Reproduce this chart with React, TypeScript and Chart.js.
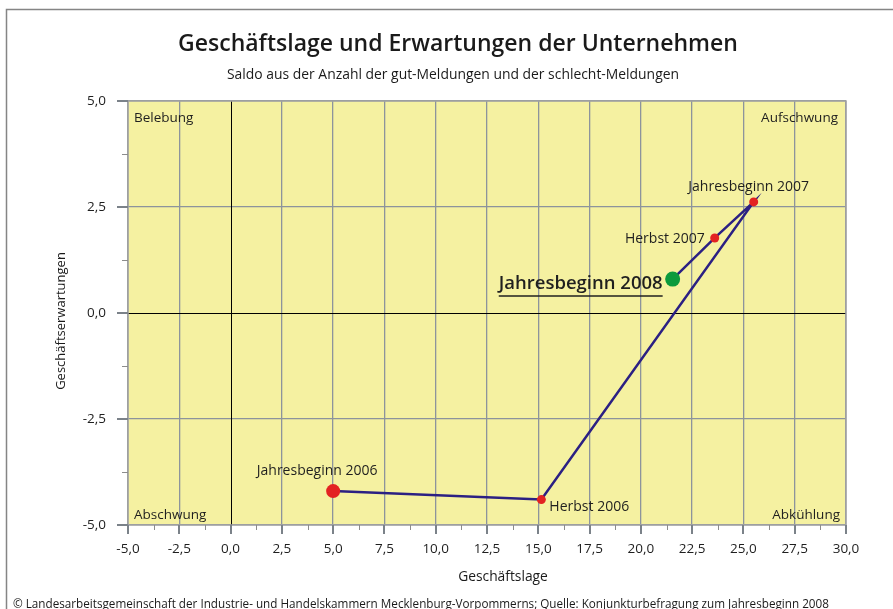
import React, { useEffect, useRef } from 'react';
import { Chart, registerables } from 'chart.js';

Chart.register(...registerables);

const FONT = '"Open Sans", Lato, sans-serif';

const TITLE = 'Geschäftslage und Erwartungen der Unternehmen';
const SUBTITLE = 'Saldo aus der Anzahl der gut-Meldungen und der schlecht-Meldungen';
const X_TITLE = 'Geschäftslage';
const Y_TITLE = 'Geschäftserwartungen';
const FOOTER = '© Landesarbeitsgemeinschaft der Industrie- und Handelskammern Mecklenburg-Vorpommerns; Quelle: Konjunkturbefragung zum Jahresbeginn 2008';

const X_MIN = -5;
const X_MAX = 30;
const Y_MIN = -5;
const Y_MAX = 5;
const MINOR_STEP = 1.25;
const MAJOR_STEP = 2.5;

const POINT_LABELS = ['Jahresbeginn 2006', 'Herbst 2006', 'Jahresbeginn 2007', 'Herbst 2007', 'Jahresbeginn 2008'];
const X_VALUES = [5.0, 15.15, 25.5, 23.6, 21.55];
const Y_VALUES = [-4.2, -4.4, 2.62, 1.77, 0.8];

const QUADRANTS = ['Belebung', 'Aufschwung', 'Abschwung', 'Abkühlung'];

const isMajor = (v: number) => Math.abs(v / MAJOR_STEP - Math.round(v / MAJOR_STEP)) < 1e-6;
const fmt = (v: number) => v.toFixed(1).replace('.', ',');

const POINT_COLORS = ['#e32222', '#e32222', '#e32222', '#e32222', '#0b9a3c'];
const POINT_RADII = [7, 4.5, 4.5, 4.5, 7.5];

// label placement style relative to each point: [dx, dy, align, bold]
const LABEL_STYLE: [number, number, CanvasTextAlign, boolean][] = [
  [-16, -20, 'center', false],
  [8, 7, 'left', false],
  [-5, -15, 'center', false],
  [-10, 1, 'right', false],
  [-10, 5, 'right', true],
];

const decorPlugin = {
  id: 'decor',
  beforeDraw(chart: any) {
    const { ctx, chartArea: a } = chart;
    ctx.save();
    ctx.fillStyle = '#ffffff';
    ctx.fillRect(0, 0, chart.width, chart.height);
    ctx.fillStyle = '#f5f1a1';
    ctx.fillRect(a.left, a.top, a.right - a.left, a.bottom - a.top);
    // outer frame
    ctx.strokeStyle = '#858585';
    ctx.lineWidth = 1.5;
    ctx.beginPath();
    ctx.moveTo(6.5, chart.height + 5);
    ctx.lineTo(6.5, 9.5);
    ctx.lineTo(chart.width + 5, 9.5);
    ctx.stroke();
    ctx.restore();
  },
  beforeDatasetsDraw(chart: any) {
    const { ctx, chartArea: a, scales } = chart;
    ctx.save();
    // zero lines
    ctx.strokeStyle = '#000000';
    ctx.lineWidth = 1;
    const x0 = Math.round(scales.x.getPixelForValue(0)) + 0.5;
    const y0 = Math.round(scales.y.getPixelForValue(0)) + 0.5;
    ctx.beginPath();
    ctx.moveTo(x0, a.top);
    ctx.lineTo(x0, a.bottom);
    ctx.moveTo(a.left, y0);
    ctx.lineTo(a.right, y0);
    ctx.stroke();
    // border
    ctx.strokeStyle = '#a3a3a3';
    ctx.lineWidth = 1.5;
    ctx.strokeRect(a.left, a.top, a.right - a.left, a.bottom - a.top);
    // quadrant labels
    ctx.fillStyle = '#1f1f1f';
    ctx.font = `13.5px ${FONT}`;
    ctx.textBaseline = 'middle';
    ctx.textAlign = 'left';
    ctx.fillText(QUADRANTS[0], a.left + 6, a.top + 17);
    ctx.fillText(QUADRANTS[2], a.left + 6, a.bottom - 10);
    ctx.textAlign = 'right';
    ctx.fillText(QUADRANTS[1], a.right - 8, a.top + 17);
    ctx.fillText(QUADRANTS[3], a.right - 6, a.bottom - 10);
    ctx.restore();
  },
  afterDraw(chart: any) {
    const { ctx, chartArea: a, scales } = chart;
    ctx.save();
    // tick marks
    for (const t of scales.x.ticks) {
      const px = Math.round(scales.x.getPixelForValue(t.value));
      const major = isMajor(t.value);
      ctx.strokeStyle = major ? '#7b8289' : '#8c8c8c';
      ctx.lineWidth = major ? 2 : 1;
      ctx.beginPath();
      ctx.moveTo(px + (major ? 0 : 0.5), a.bottom);
      ctx.lineTo(px + (major ? 0 : 0.5), a.bottom + (major ? 9 : 5));
      ctx.stroke();
    }
    for (const t of scales.y.ticks) {
      const py = Math.round(scales.y.getPixelForValue(t.value));
      const major = isMajor(t.value);
      ctx.strokeStyle = major ? '#7b8289' : '#8c8c8c';
      ctx.lineWidth = major ? 2 : 1;
      ctx.beginPath();
      ctx.moveTo(a.left, py + (major ? 0 : 0.5));
      ctx.lineTo(a.left - (major ? 11 : 6), py + (major ? 0 : 0.5));
      ctx.stroke();
    }
    // point labels
    const meta = chart.getDatasetMeta(0);
    meta.data.forEach((el: any, i: number) => {
      const [dx, dy, align, bold] = LABEL_STYLE[i];
      ctx.fillStyle = '#1f1f1f';
      ctx.textAlign = align;
      ctx.textBaseline = 'middle';
      ctx.font = bold ? `600 18.5px ${FONT}` : `14px ${FONT}`;
      const tx = el.x + dx;
      const ty = el.y + dy;
      ctx.fillText(POINT_LABELS[i], tx, ty);
      if (bold) {
        const w = ctx.measureText(POINT_LABELS[i]).width;
        const left = align === 'right' ? tx - w : align === 'center' ? tx - w / 2 : tx;
        ctx.strokeStyle = '#1f1f1f';
        ctx.lineWidth = 1.5;
        ctx.beginPath();
        ctx.moveTo(left, ty + 12);
        ctx.lineTo(left + w, ty + 12);
        ctx.stroke();
      }
    });
    // titles
    ctx.fillStyle = '#1a1a1a';
    ctx.textAlign = 'center';
    ctx.textBaseline = 'middle';
    ctx.font = `600 23px ${FONT}`;
    ctx.fillText(TITLE, 458, 44);
    ctx.font = `13.9px ${FONT}`;
    ctx.fillText(SUBTITLE, 453, 75);
    ctx.font = `13.8px ${FONT}`;
    ctx.fillText(X_TITLE, (a.left + a.right) / 2 + 16, 577);
    ctx.save();
    ctx.translate(61, (a.top + a.bottom) / 2 + 8);
    ctx.rotate(-Math.PI / 2);
    ctx.font = `13px ${FONT}`;
    ctx.fillText(Y_TITLE, 0, 0);
    ctx.restore();
    ctx.textAlign = 'left';
    ctx.font = `11.7px ${FONT}`;
    ctx.fillText(FOOTER, 13, 605);
    ctx.restore();
  },
};

export default function App() {
  const ref = useRef<HTMLCanvasElement | null>(null);
  useEffect(() => {
    if (!ref.current) return;
    const points = X_VALUES.map((x, i) => ({ x, y: Y_VALUES[i] }));
    const gridColor = (c: any) => {
      const v = c.tick?.value;
      if (v === undefined) return 'rgba(0,0,0,0)';
      if (Math.abs(v) < 1e-9) return 'rgba(0,0,0,0)';
      return isMajor(v) ? '#8d949c' : 'rgba(0,0,0,0)';
    };
    const chart = new Chart(ref.current, {
      type: 'scatter',
      data: {
        datasets: [
          {
            data: points,
            showLine: true,
            borderColor: '#2b2083',
            borderWidth: 2.5,
            pointBackgroundColor: POINT_COLORS,
            pointBorderColor: POINT_COLORS,
            pointBorderWidth: 0,
            pointRadius: POINT_RADII,
            pointHoverRadius: POINT_RADII,
          },
        ],
      },
      options: {
        responsive: false,
        animation: false,
        devicePixelRatio: 1,
        events: [],
        layout: { padding: { left: 58, top: 101, right: 47, bottom: 44 } },
        plugins: { legend: { display: false }, tooltip: { enabled: false }, title: { display: false } },
        scales: {
          x: {
            type: 'linear',
            min: X_MIN,
            max: X_MAX,
            border: { display: false },
            grid: { color: gridColor, lineWidth: 1.3, drawTicks: false },
            ticks: {
              stepSize: MINOR_STEP,
              autoSkip: false,
              maxRotation: 0,
              padding: 16,
              color: '#1f1f1f',
              font: { family: FONT, size: 13.5 },
              callback: (v: any) => (isMajor(Number(v)) ? fmt(Number(v)) : ''),
            },
            afterFit: (s: any) => {
              s.height = 40;
            },
          },
          y: {
            type: 'linear',
            min: Y_MIN,
            max: Y_MAX,
            border: { display: false },
            grid: { color: gridColor, lineWidth: 1.3, drawTicks: false },
            ticks: {
              stepSize: MINOR_STEP,
              autoSkip: false,
              padding: 22,
              color: '#1f1f1f',
              font: { family: FONT, size: 13.5 },
              callback: (v: any) => (isMajor(Number(v)) ? fmt(Number(v)) : ''),
            },
            afterFit: (s: any) => {
              s.width = 70;
            },
          },
        },
      },
      plugins: [decorPlugin],
    });
    return () => chart.destroy();
  }, []);
  return (
    <div style={{ position: 'fixed', left: 0, top: 0, width: 893, height: 609 }}>
      <canvas ref={ref} width={893} height={609} style={{ display: 'block', width: 893, height: 609 }} />
    </div>
  );
}
